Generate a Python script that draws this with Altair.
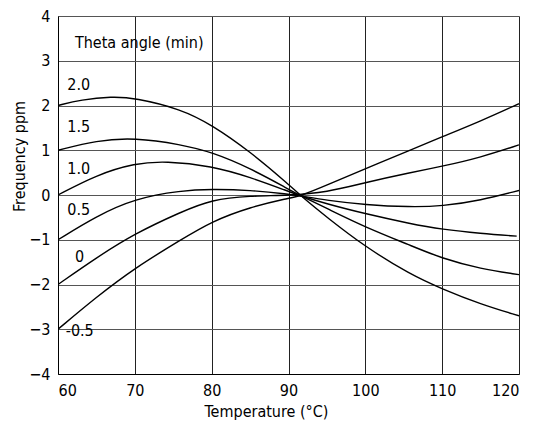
import altair as alt
import pandas as pd

FONT = "Liberation Sans Narrow, DejaVu Sans Condensed, sans-serif"

series_names = ["2.0", "1.5", "1.0", "0.5", "0", "-0.5"]

temp_20 = [60, 63, 67, 70, 76, 80, 85, 90, 91.6, 95, 100, 105.8, 110, 115, 120]
freq_20 = [2.0, 2.13, 2.2, 2.17, 1.92, 1.57, 0.97, 0.24, -0.02, -0.5, -1.16, -1.77, -2.10, -2.44, -2.70]

temp_15 = [60, 65, 70, 76, 80, 85, 90, 91.6, 95, 100, 105.8, 110, 115, 120]
freq_15 = [1.0, 1.22, 1.28, 1.13, 0.96, 0.60, 0.13, -0.02, -0.3, -0.72, -1.12, -1.42, -1.65, -1.78]

temp_10 = [60, 65, 70, 74, 80, 85, 90, 91.6, 95, 100, 105.8, 110, 115, 119.7]
freq_10 = [0.0, 0.45, 0.71, 0.76, 0.65, 0.40, 0.08, -0.02, -0.2, -0.42, -0.64, -0.77, -0.86, -0.92]

temp_05 = [60, 65, 70, 76, 80, 85, 90, 91.6, 95, 100, 105.8, 110, 115, 120]
freq_05 = [-1.0, -0.47, -0.08, 0.10, 0.13, 0.11, 0.02, -0.02, -0.12, -0.22, -0.27, -0.25, -0.12, 0.10]

temp_00 = [60, 65, 70, 76, 80, 85, 90, 95, 100, 105.8, 110, 115, 120]
freq_00 = [-2.0, -1.40, -0.86, -0.38, -0.10, -0.02, -0.01, 0.06, 0.28, 0.50, 0.64, 0.84, 1.12]

temp_m05 = [60, 65, 70, 76, 80, 85, 90, 91.6, 95, 100, 105.8, 110, 115, 120]
freq_m05 = [-3.0, -2.28, -1.63, -1.0, -0.59, -0.27, -0.07, -0.02, 0.22, 0.59, 1.0, 1.30, 1.65, 2.04]

label_text = ["Theta angle (min)", "2.0", "1.5", "1.0", "0.5", "0", "-0.5"]
label_x = [62.2, 61.2, 61.2, 61.2, 61.2, 62.2, 61.0]
label_y = [3.39, 2.45, 1.52, 0.59, -0.34, -1.38, -3.04]

x_ticks = [60, 70, 80, 90, 100, 110, 120]
y_ticks = [-4, -3, -2, -1, 0, 1, 2, 3, 4]

rows = []
for name, xs, ys in zip(series_names,
                        [temp_20, temp_15, temp_10, temp_05, temp_00, temp_m05],
                        [freq_20, freq_15, freq_10, freq_05, freq_00, freq_m05]):
    for i, (xv, yv) in enumerate(zip(xs, ys)):
        rows.append({"theta": name, "temp": xv, "freq": yv, "order": i})
df = pd.DataFrame(rows)
labels = pd.DataFrame({"text": label_text, "x": label_x, "y": label_y})

xscale = alt.Scale(domain=[60, 120], nice=False, zero=False)
yscale = alt.Scale(domain=[-4, 4], nice=False, zero=False)

lines = alt.Chart(df).mark_line(color="black", strokeWidth=1.4, interpolate="basis", clip=True).encode(
    x=alt.X("temp:Q", scale=xscale,
            axis=alt.Axis(values=x_ticks, title="Temperature (°C)", grid=True, gridColor="#222",
                          gridWidth=1, ticks=False, domain=True, domainColor="black",
                          labelFont=FONT, labelFontSize=16, labelColor="black", labelPadding=8,
                          titleFont=FONT, titleFontSize=16, titleFontWeight="normal", titleColor="black",
                          titleX=208, titleY=42, titleBaseline="alphabetic", titleAlign="center")),
    y=alt.Y("freq:Q", scale=yscale,
            axis=alt.Axis(values=y_ticks, title="Frequency ppm", grid=True, gridColor="#555",
                          gridWidth=1, ticks=False, domain=True, domainColor="black",
                          labelFont=FONT, labelFontSize=16, labelColor="black", labelPadding=8,
                          titleFont=FONT, titleFontSize=16, titleFontWeight="normal", titleColor="black",
                          titleX=-39, titleY=140, titleAlign="center", titleBaseline="middle")),
    detail="theta:N",
    order="order:Q",
)

text = alt.Chart(labels).mark_text(align="left", baseline="middle", font=FONT, fontSize=16, color="black").encode(
    x=alt.X("x:Q", scale=xscale),
    y=alt.Y("y:Q", scale=yscale),
    text="text:N",
)

chart = alt.layer(lines, text).properties(
    width=461, height=358,
    autosize=alt.AutoSizeParams(type="none"),
    padding={"left": 50, "top": 8, "right": 12, "bottom": 48},
).configure_view(stroke="black", strokeWidth=1).configure(background="white")

chart.save("out.html", embed_options={"renderer": "svg", "actions": False})
